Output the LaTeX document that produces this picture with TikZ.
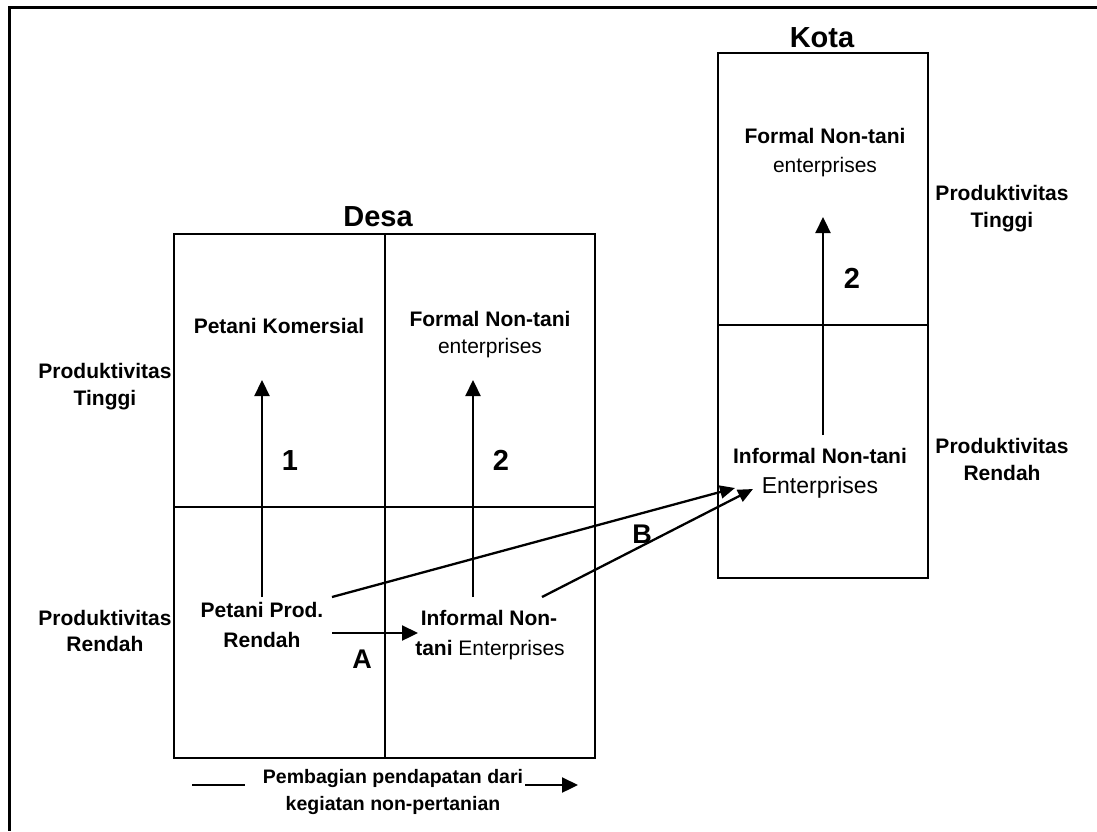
\documentclass[tikz,border=0pt]{standalone}
\usepackage{fontspec}
\setmainfont{Liberation Sans}
\usetikzlibrary{arrows.meta}
\tikzset{
  txt/.style={anchor=base, inner sep=0pt, font=\bfseries\fontsize{21}{25}\selectfont},
  rtxt/.style={anchor=base, inner sep=0pt, font=\fontsize{21}{25}\selectfont},
  ttl/.style={anchor=base, inner sep=0pt, font=\bfseries\fontsize{29}{32}\selectfont},
  num/.style={anchor=base, inner sep=0pt, font=\bfseries\fontsize{29}{32}\selectfont},
  let/.style={anchor=base, inner sep=0pt, font=\bfseries\fontsize{27}{30}\selectfont},
  foot/.style={anchor=base, inner sep=0pt, font=\bfseries\fontsize{19.5}{24}\selectfont},
  boxline/.style={line width=2.4pt},
  frameline/.style={line width=3pt},
  arr/.style={line width=2.3pt, -{Triangle[length=16pt,width=15pt]}},
  arrs/.style={line width=2.3pt, -{Triangle[length=15pt,width=13pt]}},
}
\begin{document}
\begin{tikzpicture}[x=1pt,y=-1pt]
\useasboundingbox (0,0) rectangle (1097,831);
% outer frame
\draw[frameline] (8,7) -- (1097,7);
\draw[frameline] (9,7) -- (9,831);

% Desa box
\draw[boxline] (174,234) rectangle (595,758);
\draw[boxline] (385,234) -- (385,758);
\draw[boxline] (174,507) -- (595,507);
% Kota box
\draw[boxline] (718,53) rectangle (928,578);
\draw[boxline] (718,325) -- (928,325);

% titles
\node[ttl] (kota) at (822,47) {Kota};
\node[ttl] (desa) at (378,226) {Desa};

% Kota texts
\node[txt]  (kf1) at (825,143) {Formal Non-tani};
\node[rtxt] (kf2) at (825,172) {enterprises};
\node[txt]  (ki1) at (820,463) {Informal Non-tani};
\node[rtxt,font=\fontsize{23}{27}\selectfont] (ki2) at (820,493) {Enterprises};
\node[num]  (k2) at (852,288) {2};

% right labels
\node[txt] (rt1) at (1002,200) {Produktivitas};
\node[txt] (rt2) at (1002,227) {Tinggi};
\node[txt] (rr1) at (1002,453) {Produktivitas};
\node[txt] (rr2) at (1002,480) {Rendah};

% left labels
\node[txt] (lt1) at (105,378) {Produktivitas};
\node[txt] (lt2) at (105,405) {Tinggi};
\node[txt] (lr1) at (105,625) {Produktivitas};
\node[txt] (lr2) at (105,651) {Rendah};

% Desa texts
\node[txt]  (pk)  at (279,333) {Petani Komersial};
\node[txt]  (df1) at (490,326) {Formal Non-tani};
\node[rtxt] (df2) at (490,353) {enterprises};
\node[num]  (n1)  at (290,470) {1};
\node[num]  (n2)  at (501,470) {2};
\node[txt]  (pp1) at (262,617) {Petani Prod.};
\node[txt]  (pp2) at (262,647) {Rendah};
\node[txt]  (di1) at (489,625) {Informal Non-};
\node[txt]  (di2) at (490,655) {tani \mdseries Enterprises};
\node[let]  (la)  at (362,668) {A};
\node[let]  (lb)  at (642,543) {B};

% footer
\node[foot] (f1) at (393,783) {Pembagian pendapatan dari};
\node[foot] (f2) at (393,810) {kegiatan non-pertanian};

% connector end points
\coordinate (a1s) at (262,597); \coordinate (a1e) at (262,380);
\coordinate (a2s) at (473,597); \coordinate (a2e) at (473,380);
\coordinate (aAs) at (332,633); \coordinate (aAe) at (418,633);
\coordinate (b1s) at (332,597); \coordinate (b1e) at (735,488);
\coordinate (b2s) at (542,597); \coordinate (b2e) at (753,489);
\coordinate (k2s) at (823,435); \coordinate (k2e) at (823,217);
\coordinate (fls) at (192,785); \coordinate (fle) at (245,785);
\coordinate (fas) at (525,785); \coordinate (fae) at (578,785);

\draw[arr] (a1s) -- (a1e);
\draw[arr] (a2s) -- (a2e);
\draw[arr] (aAs) -- (aAe);
\draw[arrs] (b1s) -- (b1e);
\draw[arrs] (b2s) -- (b2e);
\draw[arr] (k2s) -- (k2e);
\draw[line width=2.3pt] (fls) -- (fle);
\draw[arr] (fas) -- (fae);
\end{tikzpicture}
\end{document}
